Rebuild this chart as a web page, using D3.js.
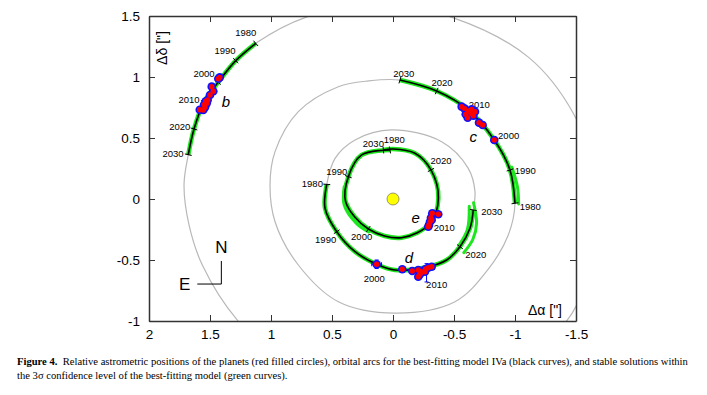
<!DOCTYPE html>
<html>
<head>
<meta charset="utf-8">
<script src="https://cdn.jsdelivr.net/npm/d3@7/dist/d3.min.js"></script>
<style>
body { margin: 0; background: #fff; }
svg text { font-family: "Liberation Sans", Arial, Helvetica, sans-serif; fill: #000; }
.cap text { font-family: "Liberation Serif", "Times New Roman", serif; }
</style>
</head>
<body>
<svg id="fig" width="707" height="395"></svg>
<script>
// offsets in arcsec: [dAlpha, dDelta, decade tick ("" = no tick)]
var bArc = [[1.125, 1.276, "1980"], [1.289, 1.134, "1990"], [1.434, 0.956, "2000"],
	[1.549, 0.795, "2010"], [1.631, 0.574, "2020"], [1.678, 0.363, "2030"]];
var cArc = [[-1.0, -0.035, "1980"], [-0.959, 0.238, "1990"], [-0.83, 0.484, "2000"],
	[-0.617, 0.73, "2010"], [-0.358, 0.885, "2020"], [-0.057, 0.975, "2030"]];
var dArc = [[0.543, 0.12, "1980"], [0.557, -0.076, ""], [0.461, -0.268, "1990"], [0.311, -0.432, ""],
	[0.134, -0.535, "2000"], [-0.016, -0.582, ""], [-0.29, -0.555, "2010"], [-0.44, -0.5, ""],
	[-0.549, -0.391, "2020"], [-0.631, -0.24, ""], [-0.658, -0.09, "2030"]];
var eArc = [[0.025, 0.402, "1980"], [0.257, 0.361, ""], [0.366, 0.183, "1990"], [0.388, -0.022, ""],
	[0.202, -0.246, "2000"], [-0.071, -0.317, ""], [-0.303, -0.2, "2010"], [-0.372, 0.006, ""],
	[-0.311, 0.238, "2020"], [-0.18, 0.375, ""], [0.0, 0.41, ""], [0.079, 0.402, "2030"]];

// full best-fit orbits (grey), read round the curve
var bOrbit = [[1.678, 0.363], [1.713, 0.115], [1.672, -0.213], [1.563, -0.541], [1.276, -0.992],
	[0.95, -1.28], [0.5, -1.5], [0.0, -1.6], [-0.5, -1.52], [-1.0, -1.3], [-1.43, -0.99],
	[-1.62, -0.55], [-1.67, -0.1], [-1.62, 0.3], [-1.481, 0.697], [-1.112, 1.161], [-0.484, 1.489],
	[0.116, 1.6], [0.716, 1.489], [1.125, 1.276], [1.289, 1.134], [1.434, 0.956], [1.549, 0.795], [1.631, 0.574]];
var cOrbit = [[-1.0, -0.035], [-0.945, -0.295], [-0.781, -0.575], [-0.508, -0.842], [-0.016, -0.935],
	[0.448, -0.842], [0.776, -0.541], [0.967, -0.186], [1.008, 0.115], [0.967, 0.388], [0.776, 0.716],
	[0.448, 0.92], [0.2, 0.968], [-0.057, 0.975], [-0.358, 0.885], [-0.617, 0.73], [-0.83, 0.484], [-0.959, 0.238]];
var dOrbit = [[0.543, 0.12], [0.557, -0.076], [0.461, -0.268], [0.311, -0.432], [0.134, -0.535],
	[-0.016, -0.582], [-0.29, -0.555], [-0.44, -0.5], [-0.549, -0.391], [-0.631, -0.24], [-0.658, -0.09],
	[-0.672, 0.06], [-0.617, 0.251], [-0.399, 0.47], [0.011, 0.566], [0.311, 0.484], [0.475, 0.333]];

// extra spread of the stable 3-sigma solutions
var greenSpread = [
	[[-0.66, -0.03], [-0.685, -0.2], [-0.655, -0.33], [-0.58, -0.44]],
	[[-0.625, -0.06], [-0.61, -0.25], [-0.54, -0.38]],
	[[-0.975, 0.26], [-1.02, 0.1], [-1.03, -0.04]],
	[[0.4, 0.1], [0.4, -0.05], [0.3, -0.2], [0.2, -0.27]]
];

// decade label anchors
var bLabels = [[1.207, 1.361, "1980"], [1.377, 1.216, "1990"], [1.549, 1.025, "2000"],
	[1.672, 0.811, "2010"], [1.748, 0.593, "2020"], [1.803, 0.375, "2030"]];
var cLabels = [[-1.125, -0.063, "1980"], [-1.084, 0.232, "1990"], [-0.948, 0.516, "2000"],
	[-0.707, 0.773, "2010"], [-0.402, 0.951, "2020"], [-0.088, 1.03, "2030"]];
var dLabels = [[0.661, 0.129, "1980"], [0.552, -0.336, "1990"], [0.153, -0.65, "2000"],
	[-0.358, -0.699, "2010"], [-0.678, -0.459, "2020"], [-0.809, -0.104, "2030"]];
var eLabels = [[-0.011, 0.484, "1980"], [0.461, 0.224, "1990"], [0.257, -0.309, "2000"],
	[-0.42, -0.235, "2010"], [-0.393, 0.311, "2020"], [0.161, 0.457, "2030"]];

// observed relative positions
var bObs = [[1.42, 0.997], [1.432, 0.986], [1.486, 0.921], [1.473, 0.883], [1.5, 0.852], [1.519, 0.811],
	[1.535, 0.801], [1.527, 0.784], [1.549, 0.773], [1.555, 0.73], [1.584, 0.732], [1.541, 0.752]];
var cObs = [[-0.563, 0.757], [-0.585, 0.743], [-0.617, 0.721], [-0.639, 0.702], [-0.658, 0.683],
	[-0.612, 0.666], [-0.645, 0.735], [-0.705, 0.626], [-0.735, 0.607], [-0.83, 0.484], [-0.672, 0.716], [-0.596, 0.694]];
var dObs = [[0.134, -0.535], [-0.076, -0.576], [-0.158, -0.59], [-0.207, -0.582], [-0.207, -0.637],
	[-0.235, -0.596], [-0.268, -0.574], [-0.289, -0.563], [-0.317, -0.555], [-0.221, -0.617], [-0.262, -0.596]];
var eObs = [[-0.322, -0.117], [-0.371, -0.125], [-0.311, -0.153], [-0.303, -0.186], [-0.295, -0.213],
	[-0.317, -0.172], [-0.289, -0.227]];
// [x, y, ex, ey]
var obsErr = [[0.134, -0.535, 0.04, 0.035], [-0.275, -0.605, 0.0, 0.075], [-0.29, -0.566, 0.05, 0.0]];

var planetNames = [["b", 1.369, 0.795], ["c", -0.658, 0.511], ["d", -0.131, -0.481], ["e", -0.186, -0.153]];

var xTicks = [2, 1.5, 1, 0.5, 0, -0.5, -1, -1.5];
var yTicks = [1.5, 1, 0.5, 0, -0.5, -1];

var caption1 = "Relative astrometric positions of the planets (red filled circles), orbital arcs for the best-fitting model IVa (black curves), and stable solutions within";
var caption2 = "the 3\u03c3 confidence level of the best-fitting model (green curves).";

var svg = d3.select("#fig");
var x = d3.scaleLinear().domain([2, -1.5]).range([149, 576]);
var y = d3.scaleLinear().domain([1.5, -1]).range([16, 321]);

svg.append("clipPath").attr("id", "plotclip")
	.append("rect").attr("x", 149).attr("y", 16).attr("width", 427).attr("height", 305);

var plot = svg.append("g").attr("clip-path", "url(#plotclip)");

var closedLine = d3.line().x(function(d) {return x(d[0]);}).y(function(d) {return y(d[1]);})
	.curve(d3.curveCatmullRomClosed.alpha(0.5));
var openLine = d3.line().x(function(d) {return x(d[0]);}).y(function(d) {return y(d[1]);})
	.curve(d3.curveCatmullRom.alpha(0.5));

[bOrbit, cOrbit, dOrbit].forEach(function(orb) {
	plot.append("path").attr("d", closedLine(orb))
		.attr("fill", "none").attr("stroke", "#b8b8b8").attr("stroke-width", 1.2);
});

greenSpread.forEach(function(s) {
	plot.append("path").attr("d", openLine(s))
		.attr("fill", "none").attr("stroke", "#1ee61e").attr("stroke-width", 3).attr("stroke-linecap", "round");
});

var arcs = [bArc, cArc, dArc, eArc];
arcs.forEach(function(arc) {
	plot.append("path").attr("d", openLine(arc))
		.attr("fill", "none").attr("stroke", "#1ee61e").attr("stroke-width", 4.5);
});
arcs.forEach(function(arc) {
	plot.append("path").attr("d", openLine(arc))
		.attr("fill", "none").attr("stroke", "#000").attr("stroke-width", 1.6);
	// decade ticks, across the arc
	arc.forEach(function(p, i) {
		if (!p[2]) return;
		var a = arc[Math.max(i - 1, 0)], b = arc[Math.min(i + 1, arc.length - 1)];
		var dx = x(b[0]) - x(a[0]), dy = y(b[1]) - y(a[1]);
		var len = Math.sqrt(dx * dx + dy * dy);
		var nx = -dy / len * 3.5, ny = dx / len * 3.5;
		plot.append("line")
			.attr("x1", x(p[0]) - nx).attr("y1", y(p[1]) - ny)
			.attr("x2", x(p[0]) + nx).attr("y2", y(p[1]) + ny)
			.attr("stroke", "#000").attr("stroke-width", 1);
	});
});

[bLabels, cLabels, dLabels, eLabels].forEach(function(labs) {
	plot.selectAll(null).data(labs).enter().append("text")
		.attr("x", function(d) {return x(d[0]);})
		.attr("y", function(d) {return y(d[1]);})
		.attr("dy", "0.35em")
		.attr("text-anchor", "middle")
		.attr("font-size", 9.5)
		.text(function(d) {return d[2];});
});

// error bars
obsErr.forEach(function(e) {
	var g = plot.append("g").attr("stroke", "#0000ff").attr("stroke-width", 1);
	if (e[2]) {
		g.append("line").attr("x1", x(e[0] + e[2])).attr("x2", x(e[0] - e[2])).attr("y1", y(e[1])).attr("y2", y(e[1]));
		g.append("line").attr("x1", x(e[0] + e[2])).attr("x2", x(e[0] + e[2])).attr("y1", y(e[1]) - 2).attr("y2", y(e[1]) + 2);
		g.append("line").attr("x1", x(e[0] - e[2])).attr("x2", x(e[0] - e[2])).attr("y1", y(e[1]) - 2).attr("y2", y(e[1]) + 2);
	}
	if (e[3]) {
		g.append("line").attr("x1", x(e[0])).attr("x2", x(e[0])).attr("y1", y(e[1] + e[3])).attr("y2", y(e[1] - e[3]));
		g.append("line").attr("x1", x(e[0]) - 2).attr("x2", x(e[0]) + 2).attr("y1", y(e[1] + e[3])).attr("y2", y(e[1] + e[3]));
		g.append("line").attr("x1", x(e[0]) - 2).attr("x2", x(e[0]) + 2).attr("y1", y(e[1] - e[3])).attr("y2", y(e[1] - e[3]));
	}
});

var obs = bObs.concat(cObs, dObs, eObs);
plot.selectAll(null).data(obs).enter().append("circle")
	.attr("cx", function(d) {return x(d[0]);}).attr("cy", function(d) {return y(d[1]);})
	.attr("r", 4.3).attr("fill", "#1010ff");
plot.selectAll(null).data(obs).enter().append("circle")
	.attr("cx", function(d) {return x(d[0]);}).attr("cy", function(d) {return y(d[1]);})
	.attr("r", 2.7).attr("fill", "#ff0000");

// the star
plot.append("circle").attr("cx", x(0)).attr("cy", y(0)).attr("r", 6)
	.attr("fill", "#ffff00").attr("stroke", "#555").attr("stroke-width", 0.6);

plot.selectAll(null).data(planetNames).enter().append("text")
	.attr("x", function(d) {return x(d[1]);}).attr("y", function(d) {return y(d[2]);})
	.attr("dy", "0.35em").attr("text-anchor", "middle")
	.attr("font-size", 15).attr("font-style", "italic")
	.text(function(d) {return d[0];});

// compass
var comp = svg.append("g");
comp.append("path")
	.attr("d", "M" + x(1.604) + "," + y(-0.697) + "H" + x(1.407) + "V" + y(-0.508))
	.attr("fill", "none").attr("stroke", "#000").attr("stroke-width", 1);
comp.append("text").attr("x", x(1.407)).attr("y", y(-0.391)).attr("dy", "0.35em")
	.attr("text-anchor", "middle").attr("font-size", 17).text("N");
comp.append("text").attr("x", x(1.707)).attr("y", y(-0.697)).attr("dy", "0.35em")
	.attr("text-anchor", "middle").attr("font-size", 17).text("E");

// axes, ticks inside on all four sides
function styleAxis(g) {
	g.selectAll("path").attr("stroke", "#333").attr("stroke-width", 1.5);
	g.selectAll("line").attr("stroke", "#333").attr("stroke-width", 1);
	g.selectAll("text").attr("font-size", 13.5).attr("fill", "#000")
		.style("font-family", "'Liberation Sans', Arial, sans-serif");
}
var fmt = function(d) {return String(d);};
svg.append("g").attr("transform", "translate(0,321)")
	.call(d3.axisBottom(x).tickValues(xTicks).tickFormat(fmt).tickSizeInner(-6).tickSizeOuter(0).tickPadding(8))
	.call(styleAxis);
svg.append("g").attr("transform", "translate(0,16)")
	.call(d3.axisTop(x).tickValues(xTicks).tickFormat("").tickSizeInner(-6).tickSizeOuter(0))
	.call(styleAxis);
svg.append("g").attr("transform", "translate(149,0)")
	.call(d3.axisLeft(y).tickValues(yTicks).tickFormat(fmt).tickSizeInner(-6).tickSizeOuter(0).tickPadding(9))
	.call(styleAxis);
svg.append("g").attr("transform", "translate(576,0)")
	.call(d3.axisRight(y).tickValues(yTicks).tickFormat("").tickSizeInner(-6).tickSizeOuter(0))
	.call(styleAxis);

svg.append("text").attr("transform", "translate(167,48) rotate(-90)")
	.attr("text-anchor", "middle").attr("font-size", 14).text("\u0394\u03b4 [\"]");
svg.append("text").attr("x", 562).attr("y", 315)
	.attr("text-anchor", "end").attr("font-size", 14).text("\u0394\u03b1 [\"]");

// caption
var cap = svg.append("g").attr("class", "cap");
var l1 = cap.append("text").attr("x", 17).attr("y", 365).attr("font-size", 10.6);
l1.append("tspan").attr("font-weight", "bold").text("Figure 4.");
l1.append("tspan").text("\u2002" + caption1);
cap.append("text").attr("x", 17).attr("y", 379).attr("font-size", 10.6).text(caption2);
</script>
</body>
</html>
